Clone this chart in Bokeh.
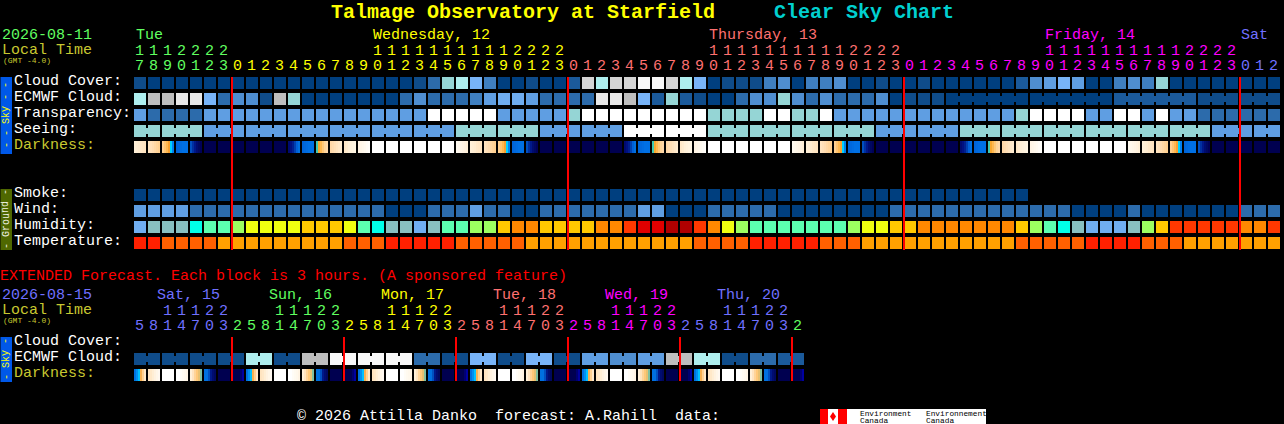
from bokeh.plotting import figure
from bokeh.models import Range1d, ColumnDataSource
from bokeh.core.properties import value
from bokeh.embed import file_html
from bokeh.resources import INLINE

# ---------- data ----------
title_left = "Talmage Observatory at Starfield"
title_right = "Clear Sky Chart"
start_hour = 17
ext_hours = [5, 8, 11, 14, 17, 20, 23, 2] * 6

cloud_cover = [1,0,0,0,0,0,0,0,0,0,
               0,0,0,0,0,0,0,0,0,0,
               1,3,9,10,8,4,0,0,1,0,
               0,2,12,10,12,12,14,14,12,10,
               8,0,1,1,1,4,5,0,4,4,
               5,0,0,1,0,0,1,0,0,0,
               0,0,0,2,5,6,8,6,0,0,
               4,5,4,9,0,0,0,0,0,0,0,0]
ecmwf_cloud = [10,11,11,13,13,8,3,5,5,1,
               11,9,0,0,0,0,0,0,0,3,
               5,3,3,3,4,6,7,7,6,3,
               3,3,3,13,13,11,8,2,9,2,
               1,0,0,3,5,5,9,5,3,5,
               3,3,3,5,0,1,1,1,0,0,
               0,0,0,0,0,0,0,0,0,0,
               2,2,2,2,2,2,1,1,1,1,1,1]
ecmwf_groups = [(58,63),(64,69),(70,75),(76,78),(79,81)]
transparency = [6,3,3,3,3,6,6,6,6,6,
                6,6,6,6,6,6,6,6,6,6,
                6,15,15,15,15,15,6,6,6,6,
                6,9,15,15,15,15,15,15,15,15,
                15,9,9,9,9,15,15,9,9,15,
                6,6,6,6,6,6,6,6,6,6,
                6,6,6,9,15,15,15,15,6,6,
                15,15,6,15,6,6,3,3,3,3,3,3]
seeing = [9,9,9,9,9,6,6,6,6,6,
          6,6,6,6,6,6,6,6,6,6,
          6,6,6,9,9,9,9,9,9,6,
          6,6,6,6,6,15,15,15,15,15,
          15,9,9,9,9,9,9,9,9,9,
          9,9,9,6,6,6,6,6,6,9,
          9,9,9,9,9,9,9,9,9,9,
          9,9,9,9,9,9,9,6,6,6,6,6]
seeing_groups = [(0,1),(2,4),(5,7),(8,10),(11,13),(14,16),(17,19),(20,22),(23,25),(26,28),
                 (29,31),(32,34),(35,37),(38,40),(41,43),(44,46),(47,49),(50,52),(53,55),
                 (56,58),(59,61),(62,64),(65,67),(68,70),(71,73),(74,76),(77,79),(80,81)]
darkness = ["E2","E1","S","B","F","N","N","N","N","N",
            "N","U","B","D","P1","P2","P3","W","W","W",
            "W","W","W","E3","E2","E1","S","B","F","N",
            "N","N","N","N","N","U","B","D","P1","P2",
            "P3","W","W","W","W","W","W","E3","E2","E1",
            "S","B","F","N","N","N","N","N","N","U",
            "B","D","P1","P2","P3","W","W","W","W","W",
            "W","E3","E2","E1","S","B","F","N","N","N","N","N"]
smoke = [0]*64
wind = [6,6,6,6,3,3,3,3,3,3,
        3,3,3,3,3,3,3,3,0,0,
        0,3,3,3,6,3,3,0,0,3,
        3,3,3,3,3,3,6,6,0,0,
        0,3,3,3,3,3,0,0,0,0,
        0,0,0,0,3,3,3,3,3,3,
        3,3,3,3,3,3,3,0,0,0,
        0,3,0,0,0,0,0,0,0,3,3,3]
humidity = [0,1,1,1,2,3,3,4,5,5,
            5,5,6,6,6,5,3,2,1,1,
            0,1,3,3,4,4,6,7,7,6,
            6,6,6,7,7,8,9,9,10,10,
            8,7,5,4,3,3,3,3,3,3,
            3,4,5,5,6,6,7,7,7,7,
            7,7,7,6,4,3,2,1,0,0,
            0,1,4,6,8,8,8,8,8,7,7,8]
temperature = [0,0,1,1,1,1,2,2,2,2,
               2,2,2,2,2,1,1,1,0,0,
               0,0,0,1,1,1,1,1,2,2,
               2,2,2,2,2,2,2,2,2,2,
               1,1,1,1,0,0,0,0,0,1,
               1,1,2,2,2,2,2,2,2,2,
               2,2,2,1,1,1,1,1,0,0,
               0,0,1,1,1,2,2,2,2,2,2,2]
ext_ecmwf = [1,1,1,1,1,1,1,1,10,10,1,1,11,11,14,14,14,14,14,14,3,3,1,1,
             8,8,1,1,8,8,1,1,6,6,5,5,6,6,11,11,10,10,1,1,3,3,2,2]
ext_groups = [(k, k+1) for k in range(0, 48, 2)]
ext_darkness = ["T0","T1","W","T3","T4","T5","N","T7"] * 6

midnights = [7, 31, 55, 79]
ext_midnights = [7, 15, 23, 31, 39, 47]

# ---------- colours ----------
BLACK = "#000000"
cloud_pal = ["#003f7f","#0f4c8a","#1b5a9b","#2c6bab","#3f7fc0","#4f8ed0","#5f9ee2","#6fadf0",
             "#78b4f8","#95d5d5","#aeeeee","#bebebe","#d4d4d4","#e8e8e8","#f8f8f8","#ffffff"]
hum_pal = ["#70aef0","#88c0c0","#00ffe8","#5cffb0","#9cff60","#f0ff10","#ffc800","#ff8800",
           "#ff3800","#e00000","#b00000"]
temp_pal = ["#ff2000","#ff6000","#ffa000"]
dark_pal = {
    "N":  ["#000050"]*6,
    "F":  ["#0050c0","#0030a0","#001888","#000c70","#000860","#000058"],
    "B":  ["#0064d8","#0068dc","#006ce0","#0070e4","#0070e4","#0070e4"],
    "S":  ["#ffd090","#ffc470","#ffb850","#f8a030","#00d0ff","#0080f0"],
    "U":  ["#000a70","#001080","#002090","#0040b0","#0060d8","#0070e0"],
    "D":  ["#40c8b0","#f8a830","#ffb850","#ffc878","#ffd498","#ffd8a8"],
    "P1": ["#ffd8a8","#ffdcb0","#ffe0b8","#ffe4c0","#ffe8c8","#ffecd0"],
    "P2": ["#ffe8c8","#ffeccf","#fff0d8","#fff2dc","#fff4e0","#fff6e4"],
    "P3": ["#fff4e4","#fff6e8","#fff8ec","#fffaf0","#fffcf6","#fffefa"],
    "W":  ["#ffffff"]*6,
    "E3": ["#fffaf0","#fff8ec","#fff6e8","#fff4e4","#fff2e0","#fff0d8"],
    "E2": ["#fff0d8","#ffeed4","#ffecd0","#ffe8c8","#ffe6c4","#ffe4c0"],
    "E1": ["#ffe4c0","#ffe0b8","#ffdcb0","#ffd8a4","#ffd49a","#ffd090"],
    "T0": ["#0070e0","#0090f0","#00c0ff","#f8b050","#ffd090","#ffe8c8"],
    "T1": ["#ffe4c0","#ffe8c8","#ffeed4","#fff2e0","#fff6e8","#fff8f0"],
    "T3": ["#ffffff","#ffffff","#fffcf6","#fffaf0","#fff8ec","#fff4e4"],
    "T4": ["#fff0d8","#ffe4c0","#ffd498","#ffc878","#e8c070","#80c0a0"],
    "T5": ["#0070e0","#0070e0","#0050c0","#001888","#000c70","#000860"],
    "T7": ["#000050","#000050","#000050","#000050","#000070","#0000a0"],
}
GREEN = "#60ff60"; YELLOW = "#ffff00"; PINK = "#ff7070"; MAGENTA = "#ff00ff"; BLUE = "#7070ff"
DULL = "#c8c830"
top_day_colors = [GREEN]*7 + [YELLOW]*24 + [PINK]*24 + [MAGENTA]*24 + [BLUE]*3
ext_day_colors = [BLUE]*7 + [GREEN]*8 + [YELLOW]*8 + [PINK]*8 + [MAGENTA]*8 + [BLUE]*8 + [GREEN]

# ---------- figure: x in columns (14 px each), y in pixels ----------
W, H = 1284, 424
PITCH, X0 = 14.0, 134.0
PX_SHIFT = 0.5
def col(px):
    return (px - X0) / PITCH

p = figure(width=W, height=H, x_range=Range1d(col(PX_SHIFT), col(W + PX_SHIFT)), y_range=Range1d(H + PX_SHIFT, PX_SHIFT),
           toolbar_location=None, output_backend="svg", min_border=0,
           background_fill_color=BLACK, border_fill_color=BLACK, outline_line_color=None)
p.axis.visible = False
p.grid.visible = False
p.styles = {"position": "fixed", "left": "0", "top": "0", "background": "#000000"}

BLOCK = 12.0 / PITCH
ROW_H = 12
NECK = 3
BASE = 0.30   # baseline correction, as a share of the font size
RED_W = 1.0 / PITCH

def add_row(values, top, colors, groups=()):
    src = dict(l=[], r=[], t=[], b=[], c=[])
    for i, v in enumerate(values):
        src["l"].append(i); src["r"].append(i + BLOCK)
        src["t"].append(top); src["b"].append(top + ROW_H); src["c"].append(colors[v])
    for a, b in groups:
        for i in range(a, b):
            src["l"].append(i + BLOCK); src["r"].append(i + 1)
            src["t"].append(top + NECK); src["b"].append(top + ROW_H - NECK); src["c"].append(colors[values[i]])
    p.quad(left="l", right="r", top="t", bottom="b", fill_color="c", line_color=None,
           source=ColumnDataSource(src))

def add_dark(names, top):
    src = dict(l=[], r=[], t=[], b=[], c=[])
    for i, n in enumerate(names):
        for k, c in enumerate(dark_pal[n]):
            src["l"].append(i + k * 2 / PITCH); src["r"].append(i + BLOCK)
            src["t"].append(top); src["b"].append(top + ROW_H); src["c"].append(c)
    p.quad(left="l", right="r", top="t", bottom="b", fill_color="c", line_color=None,
           source=ColumnDataSource(src))

def add_red(cols, y0, y1):
    p.quad(left=[c - RED_W for c in cols], right=[c + RED_W for c in cols],
           top=[y0]*len(cols), bottom=[y1]*len(cols), fill_color="#ff0000", line_color=None)

def bar(x0, x1, y0, y1, color):
    p.quad(left=[col(x0)], right=[col(x1)], top=[y0], bottom=[y1], fill_color=color, line_color=None)

def text(x, y, s, color, size=15, font="Liberation Mono", bold=False, align="left", angle=0):
    p.text(x=[x], y=[y - BASE * size if angle == 0 else y], text=[s], text_color=color, text_font=value(font),
           text_font_size=value(f"{size}px"), text_align=align, text_baseline="alphabetic",
           text_font_style="bold" if bold else "normal", angle=angle)

def texts(xs, ys, ss, cs, size=15):
    p.text(x="x", y="y", text="t", text_color="c", text_font=value("Liberation Mono"),
           text_font_size=value(f"{size}px"), text_align="center", text_baseline="alphabetic",
           source=ColumnDataSource(dict(x=xs, y=[v - BASE * size for v in ys], t=ss, c=cs)))

# side bars
bar(0, 12, 77, 154, "#0058e8")
bar(0, 12, 189, 250, "#4f6800")
bar(0, 12, 337, 382, "#0058e8")
text(col(6), 115, "- - Sky - -", YELLOW, size=10, align="center", angle=1.5708)
text(col(6), 219, "- Ground -", "#f0f0e0", size=10, align="center", angle=1.5708)
text(col(6), 359, "- Sky -", YELLOW, size=10, align="center", angle=1.5708)

# titles
text(col(331), 18, title_left, YELLOW, size=20, bold=True)
text(col(774), 18, title_right, "#00d0d0", size=20, bold=True)

# top block header
text(col(2), 38.5, "2026-08-11", GREEN)
text(col(2), 55, "Local Time", DULL)
text(col(3), 63, "(GMT -4.0)", DULL, size=8)
for x0, s, c in [(136, "Tue", GREEN), (373, "Wednesday, 12", YELLOW), (709, "Thursday, 13", PINK),
                 (1045, "Friday, 14", MAGENTA), (1241, "Sat", BLUE)]:
    text(col(x0), 39.5, s, c)

hours = [(start_hour + i) % 24 for i in range(len(top_day_colors))]
xs = [i + 5.5 / PITCH for i in range(len(hours))]
texts(xs, [69]*len(hours), [str(h % 10) for h in hours], top_day_colors)
tens = [i for i, h in enumerate(hours) if h >= 10]
texts([xs[i] for i in tens], [54]*len(tens), [str(hours[i] // 10) for i in tens], [top_day_colors[i] for i in tens])

# top rows
for y, s, c in [(86, "Cloud Cover:", "#ffffff"), (102, "ECMWF Cloud:", "#ffffff"), (118, "Transparency:", "#ffffff"),
                (134, "Seeing:", "#ffffff"), (150, "Darkness:", DULL), (198, "Smoke:", "#ffffff"),
                (214, "Wind:", "#ffffff"), (230, "Humidity:", "#ffffff"), (246, "Temperature:", "#ffffff")]:
    text(col(14), y, s, c)

add_row(cloud_cover, 77, cloud_pal)
add_row(ecmwf_cloud, 93, cloud_pal, ecmwf_groups)
add_row(transparency, 109, cloud_pal)
add_row(seeing, 125, cloud_pal, seeing_groups)
add_dark(darkness, 141)
add_row(smoke, 189, cloud_pal)
add_row(wind, 205, cloud_pal)
add_row(humidity, 221, hum_pal)
add_row(temperature, 237, temp_pal)
add_red(midnights, 77, 250)

# extended
text(col(0), 281, "EXTENDED Forecast. Each block is 3 hours. (A sponsored feature)", "#ff0000")
text(col(2), 298.5, "2026-08-15", BLUE)
text(col(2), 315, "Local Time", DULL)
text(col(3), 323, "(GMT -4.0)", DULL, size=8)
for x0, s, c in [(157, "Sat, 15", BLUE), (269, "Sun, 16", GREEN), (381, "Mon, 17", YELLOW),
                 (493, "Tue, 18", PINK), (605, "Wed, 19", MAGENTA), (717, "Thu, 20", BLUE)]:
    text(col(x0), 299.5, s, c)

xs = [i + 5.5 / PITCH for i in range(len(ext_hours))]
texts(xs, [329]*len(ext_hours), [str(h % 10) for h in ext_hours], ext_day_colors)
tens = [i for i, h in enumerate(ext_hours) if h >= 10]
texts([xs[i] for i in tens], [314]*len(tens), [str(ext_hours[i] // 10) for i in tens], [ext_day_colors[i] for i in tens])

for y, s, c in [(346, "Cloud Cover:", "#ffffff"), (362, "ECMWF Cloud:", "#ffffff"), (378, "Darkness:", DULL)]:
    text(col(14), y, s, c)

add_row(ext_ecmwf, 353, cloud_pal, ext_groups)
add_dark(ext_darkness, 369)
add_red(ext_midnights, 337, 381)

# footer
text(col(297), 421, "\u00a9\u00a02026\u00a0Attilla\u00a0Danko\u00a0\u00a0forecast:\u00a0A.Rahill\u00a0\u00a0data:", "#ffffff")
bar(820, 986, 409, 424.5, "#ffffff")
bar(820, 828, 409, 424.5, "#ff0000")
bar(838, 847, 409, 424.5, "#ff0000")
p.scatter(x=[col(833)], y=[416.5], marker="diamond", size=9, fill_color="#ff0000", line_color=None)
text(col(860), 416, "Environment", "#000000", size=7.8)
text(col(860), 423, "Canada", "#000000", size=7.8)
text(col(926), 416, "Environnement", "#000000", size=7.8)
text(col(926), 423, "Canada", "#000000", size=7.8)

open("out.html", "w").write(file_html(p, INLINE))
